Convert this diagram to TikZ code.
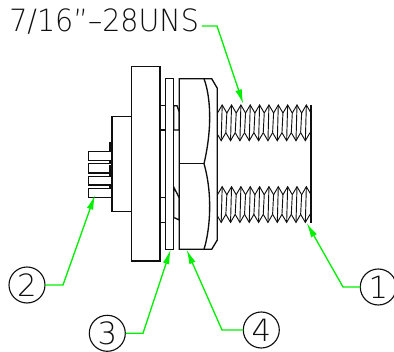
\documentclass[tikz,border=0pt]{standalone}
\usepackage{fontspec}
\setmainfont{DejaVu Sans ExtraLight}
\usetikzlibrary{arrows.meta}
\definecolor{leader}{RGB}{0,240,0}
\definecolor{ink}{RGB}{15,15,15}
\tikzset{
  part/.style={draw=ink,line width=1pt,line join=miter,fill=white},
  edge/.style={draw=ink,line width=1pt},
  thread line/.style={draw=ink,line width=0.7pt},
  callout/.style={circle,draw=ink,line width=0.85pt,minimum size=27pt,inner sep=0pt,text=ink,font=\fontsize{23}{23}\selectfont},
  leaderline/.style={draw=leader,line width=1pt,-{Latex[length=11pt,width=5pt]}},
  spec/.style={inner sep=0pt,anchor=west,text=ink,font=\fontsize{23}{24}\selectfont}
}
\begin{document}
\begin{tikzpicture}[x=0.75pt,y=-0.75pt]
\useasboundingbox (0,0) rectangle (394,352);
% pins
\draw[part] (110,142.7) -- (110,151.3) -- (88.3,151.3) -- (88.3,160.5) -- (112,160.5) -- (112,142.7) -- cycle;
\draw[part] (110,160.5) -- (110,163.7) -- (88.3,163.7) -- (88.3,173) -- (112,173) -- (112,160.5) -- cycle;
\draw[part] (110,166) -- (110,176.3) -- (88.3,176.3) -- (88.3,185) -- (112,185) -- (112,166) -- cycle;
\draw[part] (110,185) -- (110,188.3) -- (88.3,188.3) -- (88.3,197.7) -- (112,197.7) -- (112,185) -- cycle;
% back body
\draw[part] (112,116.7) rectangle (131.3,211.3);
% flange
\draw[part] (131.3,66.7) rectangle (160,261);
% spacers
\draw[part] (160,105.7) rectangle (165.3,130);
\draw[part] (160,197.7) rectangle (165.3,222.3);
% washer-nut gap
\draw[part] (173.7,105.7) -- (177,105.7) -- (179.3,112) -- (179.3,130) -- (173.7,130) -- cycle;
\draw[part] (173.7,187) -- (179.3,198) -- (179.3,220) -- (175,218) -- (173.7,218) -- cycle;
% washer
\draw[part] (165.3,78.3) rectangle (173.7,249.3);
% threads
\foreach \o in {105,186.7}{
  \pgfmathsetmacro{\b}{\o+35.7}
  \pgfmathsetmacro{\m}{\o+8}
  \pgfmathsetmacro{\n}{\b-8}
  \foreach \k in {0,...,9}{
    \pgfmathsetmacro{\xa}{217.5+9.35*\k}
    \pgfmathsetmacro{\xb}{\xa+4.7}
    \pgfmathsetmacro{\xc}{\xa+9.35}
    \draw[thread line] (\xa,\m) -- (\xb,\o) -- (\xc,\m);
    \draw[thread line] (\xa-1,\n) -- (\xb-1,\b) -- (\xc-1,\n);
    \draw[thread line] (\xa,\m) -- (\xa-1,\n);
    \draw[thread line] (\xb,\o) -- (\xb-1,\b);
  }
}
% nut
\draw[part] (179.3,78.7) -- (211.7,78.7) -- (217.3,88.3) -- (217.3,240) -- (211.7,249.3) -- (179.3,249.3) -- cycle;
\draw[edge] (179.3,163.7) -- (204,163.7);
\draw[edge] (204,78.7) .. controls (210,95) and (213,125) .. (204,163.7) .. controls (213,195) and (210,230) .. (204,249.3);
% bore end
\draw[edge] (311,105) -- (311,222.7);
% callouts
\node[spec] (spec) at (9,21.5) {\scalebox{0.93}[1]{7/16”–28UNS}};
\node[callout] (c1) at (378.3,287) {1};
\node[callout] (c2) at (27,285) {2};
\node[callout] (c3) at (107.3,333.3) {3};
\node[callout] (c4) at (261.3,330) {4};
\coordinate (t0) at (243.3,104);
\coordinate (t1) at (306.7,223);
\coordinate (t2) at (95,195);
\coordinate (t3) at (170.7,249.5);
\coordinate (t4) at (186.5,249.5);
\coordinate (s0) at (202,26);
\draw[leaderline] (s0) -- (217,26) -- (t0);
\draw[leaderline] (c1) ++(-18,0) -- (343,287) -- (t1);
\draw[leaderline] (c2) ++(18,0) -- (63,285) -- (t2);
\draw[leaderline] (c3) ++(18.4,0) -- (143,333.3) -- (t3);
\draw[leaderline] (c4) ++(-18,0) -- (222,330) -- (t4);
\end{tikzpicture}
\end{document}
